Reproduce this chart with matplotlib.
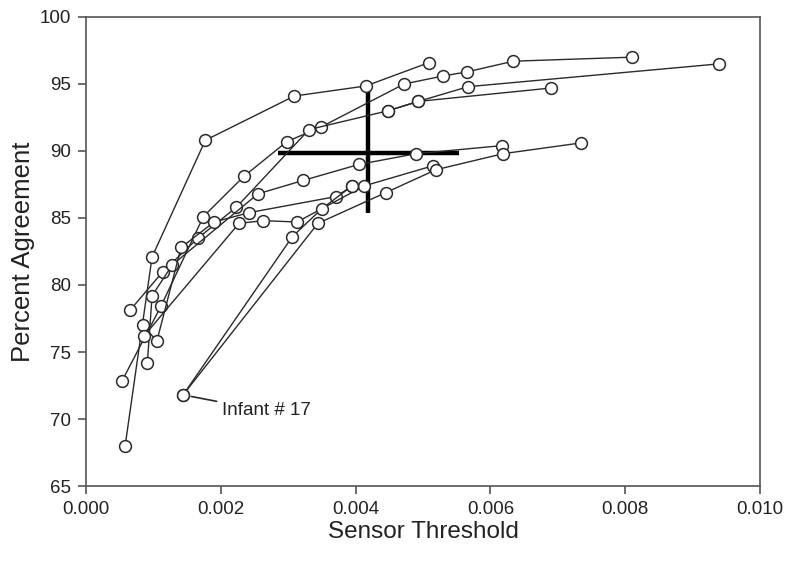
import matplotlib
matplotlib.use("Agg")
from matplotlib import pyplot as plt

# one list per infant: sensor threshold and percent agreement
infant_x = [
    [0.00058, 0.00098, 0.00177, 0.00309, 0.00415, 0.00509],
    [0.00053, 0.00111, 0.00174, 0.00234, 0.00298, 0.00349, 0.00472, 0.00530, 0.00565, 0.00634, 0.00810],
    [0.00065, 0.00114, 0.00166, 0.00223, 0.00331, 0.00448, 0.00493, 0.00567, 0.00939],
    [0.00091, 0.00098, 0.00128, 0.00255, 0.00322, 0.00405, 0.00490, 0.00617],
    [0.00085, 0.00105, 0.00141, 0.00190, 0.00242, 0.00371, 0.00395],
    [0.00086, 0.00227, 0.00263, 0.00313, 0.00413, 0.00515],
    [0.00144, 0.00306, 0.00350, 0.00395],
    [0.00144, 0.00344, 0.00445, 0.00519, 0.00619, 0.00734],
    [0.00448, 0.00493, 0.00690],
]
infant_y = [
    [68.0, 82.1, 90.8, 94.1, 94.85, 96.6],
    [72.8, 78.4, 85.1, 88.1, 90.7, 91.8, 95.0, 95.6, 95.9, 96.7, 97.0],
    [78.1, 81.0, 83.5, 85.8, 91.6, 93.0, 93.7, 94.8, 96.5],
    [74.2, 79.2, 81.5, 86.8, 87.8, 89.0, 89.8, 90.4],
    [77.0, 75.8, 82.8, 84.7, 85.4, 86.6, 87.4],
    [76.2, 84.6, 84.8, 84.7, 87.4, 88.9],
    [71.8, 83.6, 85.7, 87.4],
    [71.8, 84.6, 86.9, 88.6, 89.8, 90.6],
    [93.0, 93.7, 94.7],
]

# mean +/- spread cross
mean_x, mean_y = 0.00419, 89.85
x_lo, x_hi = 0.00285, 0.00553
y_lo, y_hi = 85.4, 94.7

label_x, label_y = 0.00144, 71.8
label_text = "Infant # 17"

plt.rcParams['font.family'] = ['Liberation Sans', 'DejaVu Sans']

fig = plt.figure(figsize=(7.85, 5.62), dpi=100)
ax = fig.add_axes([0.1096, 0.1352, 0.8586, 0.8346])

for xs, ys in zip(infant_x, infant_y):
    ax.plot(xs, ys, color='#2a2a2a', linewidth=1.0, marker='o', markersize=8.5,
            markerfacecolor='white', markeredgecolor='#2a2a2a', markeredgewidth=1.1,
            zorder=3)

ax.plot([x_lo, x_hi], [mean_y, mean_y], color='black', linewidth=3.2, zorder=2,
        solid_capstyle='butt')
ax.plot([mean_x, mean_x], [y_lo, y_hi], color='black', linewidth=3.2, zorder=2,
        solid_capstyle='butt')

ax.annotate(label_text, xy=(label_x, label_y), xytext=(0.00202, 70.6),
            fontsize=13.5, va='center', ha='left', color='#222222',
            arrowprops=dict(arrowstyle='-', color='#2a2a2a', lw=1.2,
                            shrinkA=2, shrinkB=6))

ax.set_xlim(0, 0.010)
ax.set_ylim(65, 100)
ax.set_xticks([0.000, 0.002, 0.004, 0.006, 0.008, 0.010])
ax.set_xticklabels(['0.000', '0.002', '0.004', '0.006', '0.008', '0.010'])
ax.set_yticks(range(65, 101, 5))

for s in ax.spines.values():
    s.set_color('#555555')
    s.set_linewidth(1.2)
ax.tick_params(direction='out', length=6, width=1.2, color='#555555',
               labelsize=13.5, labelcolor='#222222', pad=5)

ax.set_xlabel("Sensor Threshold", fontsize=17.5, color='#222222', labelpad=2)
ax.set_ylabel("Percent Agreement", fontsize=18.5, color='#222222', labelpad=3)

plt.savefig("out.png", dpi=100)
